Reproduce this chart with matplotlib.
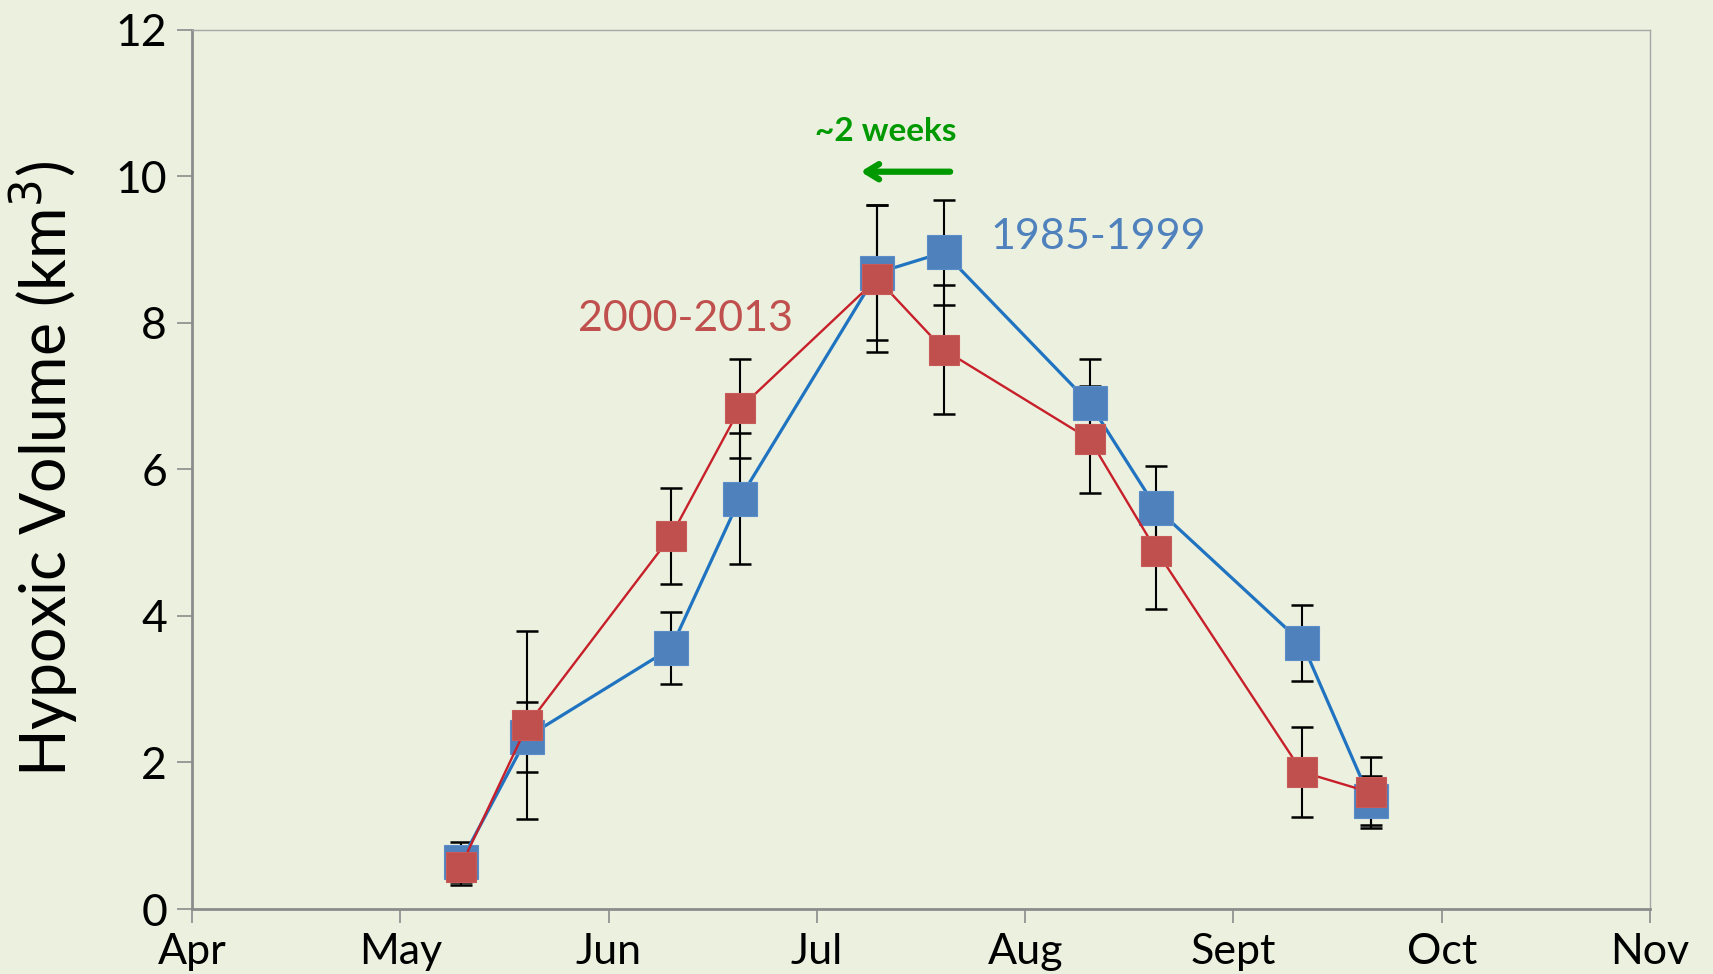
import numpy as np
import matplotlib
matplotlib.use('Agg')
import matplotlib.pyplot as plt

plt.rcParams['font.family'] = ['Lato', 'DejaVu Sans']

# months after 1 April (months drawn equally spaced)
month_labels = ['Apr', 'May', 'Jun', 'Jul', 'Aug', 'Sept', 'Oct', 'Nov']
x_pos = [1.29, 1.61, 2.30, 2.63, 3.29, 3.61, 4.31, 4.63, 5.33, 5.66]

vol_1985 = [0.64, 2.35, 3.56, 5.60, 8.68, 8.96, 6.90, 5.47, 3.63, 1.48]
err_1985 = [0.27, 0.48, 0.49, 0.89, 0.92, 0.72, 0.61, 0.58, 0.52, 0.34]

vol_2000 = [0.58, 2.51, 5.09, 6.83, 8.60, 7.63, 6.41, 4.89, 1.87, 1.59]
err_2000 = [0.25, 1.28, 0.65, 0.67, 1.00, 0.88, 0.73, 0.79, 0.62, 0.48]

bg = '#EBF0DF'
blue_mk, blue_ln = '#4F81BD', '#1F73C0'
red_mk, red_ln = '#C0504D', '#C8202A'

fig = plt.figure(figsize=(17.13, 9.74), dpi=100, facecolor=bg)
ax = fig.add_axes([0.1121, 0.0667, 0.8511, 0.9030])
ax.set_facecolor(bg)

ax.errorbar(x_pos, vol_1985, yerr=err_1985, fmt='none', ecolor='black',
            elinewidth=1.5, capsize=8, capthick=1.8, zorder=2)
ax.errorbar(x_pos, vol_2000, yerr=err_2000, fmt='none', ecolor='black',
            elinewidth=1.5, capsize=8, capthick=1.8, zorder=2)

ax.plot(x_pos, vol_1985, color=blue_ln, lw=2.3, zorder=3)
ax.plot(x_pos, vol_1985, ls='none', marker='s', ms=25, mfc=blue_mk,
        mec='#5B8DC8', mew=0.8, zorder=3)
ax.plot(x_pos, vol_2000, color=red_ln, lw=1.7, zorder=4)
ax.plot(x_pos, vol_2000, ls='none', marker='s', ms=21, mfc=red_mk,
        mec='#C85A57', mew=0.8, zorder=4)

ax.text(2.37, 8.05, '2000-2013', color=red_mk, fontsize=31,
        ha='center', va='center')
ax.text(4.35, 9.17, '1985-1999', color=blue_mk, fontsize=31,
        ha='center', va='center')
ax.text(3.33, 10.61, '~2 weeks', color='#009900', fontsize=24,
        fontweight='bold', ha='center', va='center')
ax.annotate('', xy=(3.21, 10.06), xytext=(3.64, 10.06),
            arrowprops=dict(arrowstyle='->,head_length=0.9,head_width=0.55',
                            color='#009900', lw=4.5, capstyle='round',
                            joinstyle='round', shrinkA=0, shrinkB=0))

ax.set_xlim(0, 7)
ax.set_ylim(0, 12)
ax.set_xticks(range(len(month_labels)))
ax.set_xticklabels(month_labels)
ax.set_yticks(range(0, 13, 2))

ax.tick_params(axis='x', direction='out', length=10, width=1.2,
               color='#8C8C8C', labelsize=31, pad=7)
ax.tick_params(axis='y', direction='out', length=11, width=1.2,
               color='#8C8C8C', labelsize=32, pad=7)

for s in ['left', 'bottom']:
    ax.spines[s].set_color('#8C8C8C')
    ax.spines[s].set_linewidth(2)
for s in ['top', 'right']:
    ax.spines[s].set_color('#A6A6A6')
    ax.spines[s].set_linewidth(1)

ax.set_ylabel('Hypoxic Volume (km$^3$)', fontsize=45, labelpad=25)

fig.savefig('out.png', dpi=100, facecolor=bg)
